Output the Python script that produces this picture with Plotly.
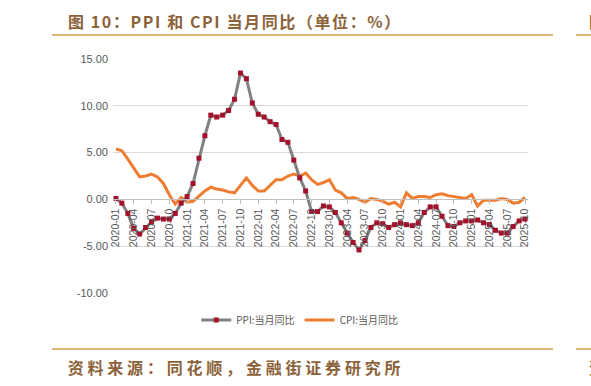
import plotly.graph_objects as go

# ---------------- data ----------------
months = [f"{y}-{m:02d}" for y in range(2020, 2026) for m in range(1, 13)][:70]  # 2020-01 .. 2025-10

ppi = [0.1, -0.4, -1.5, -3.1, -3.7, -3.0, -2.4, -2.0, -2.1, -2.1, -1.5, -0.4,
       0.3, 1.7, 4.4, 6.8, 9.0, 8.8, 9.0, 9.5, 10.7, 13.5, 12.9, 10.3,
       9.1, 8.8, 8.3, 8.0, 6.4, 6.1, 4.2, 2.3, 0.9, -1.3, -1.3, -0.7,
       -0.8, -1.4, -2.5, -3.6, -4.6, -5.4, -4.4, -3.0, -2.5, -2.6, -3.0, -2.7,
       -2.5, -2.7, -2.8, -2.5, -1.4, -0.8, -0.8, -1.8, -2.8, -2.9, -2.5, -2.3,
       -2.3, -2.2, -2.5, -2.7, -3.3, -3.6, -3.6, -2.9, -2.3, -2.1]

cpi = [5.4, 5.2, 4.3, 3.3, 2.4, 2.5, 2.7, 2.4, 1.7, 0.5, -0.5, 0.2,
       -0.3, -0.2, 0.4, 0.9, 1.3, 1.1, 1.0, 0.8, 0.7, 1.5, 2.3, 1.5,
       0.9, 0.9, 1.5, 2.1, 2.1, 2.5, 2.7, 2.5, 2.8, 2.1, 1.6, 1.8,
       2.1, 1.0, 0.7, 0.1, 0.2, 0.0, -0.3, 0.1, 0.0, -0.2, -0.5, -0.3,
       -0.8, 0.7, 0.1, 0.3, 0.3, 0.2, 0.5, 0.6, 0.4, 0.3, 0.2, 0.1,
       0.5, -0.7, -0.1, -0.1, -0.1, 0.1, 0.0, -0.4, -0.3, 0.2]

x_ticks = months[::3]
y_ticks = [-10, -5, 0, 5, 10, 15]
y_tick_labels = ["-10.00", "-5.00", "0.00", "5.00", "10.00", "15.00"]

title_text = "图 10：PPI 和 CPI 当月同比（单位：%）"
source_text = "资料来源：同花顺，金融街证券研究所"
series_names = ["PPI:当月同比", "CPI:当月同比"]

# ---------------- layout helpers ----------------
W, H = 591, 386
L, R, T, B = 113, 63, 59, 93
PW, PH = W - L - R, H - T - B


def fx(p):
    return (p - L) / PW


def fy(p):
    return (H - B - p) / PH


brown = "#8C6239"
gold = "#D4A048"
gray_txt = "#595959"

title_ls = 1.6
source_ls = 3.8
title_shift = len(title_text) * title_ls / 2
source_shift = len(source_text) * source_ls / 2

fig = go.Figure()
fig.add_trace(go.Scatter(x=months, y=cpi, name=series_names[1], mode="lines",
                         line=dict(color="#ED7D31", width=3)))
fig.add_trace(go.Scatter(x=months, y=ppi, name=series_names[0], mode="lines+markers",
                         line=dict(color="#808080", width=3),
                         marker=dict(color="#A5102A", size=5, symbol="square")))

shapes = []
for yy in (35, 349):
    shapes.append(dict(type="line", xref="paper", yref="paper", x0=fx(52), x1=fx(553),
                       y0=fy(yy), y1=fy(yy), line=dict(color=gold, width=1.5)))
    shapes.append(dict(type="line", xref="paper", yref="paper", x0=fx(576), x1=fx(600),
                       y0=fy(yy), y1=fy(yy), line=dict(color=gold, width=1.5)))

cjk = dict(family="Noto Sans CJK SC", size=16, color=brown, weight="bold")
annotations = [
    dict(text=title_text, x=fx(66 + title_shift), y=fy(21), xref="paper", yref="paper",
         xanchor="left", yanchor="middle", showarrow=False, font=cjk),
    dict(text=source_text, x=fx(66 + source_shift), y=fy(367), xref="paper", yref="paper",
         xanchor="left", yanchor="middle", showarrow=False, font=cjk),
    dict(text="图", x=fx(587), y=fy(21), xref="paper", yref="paper",
         xanchor="left", yanchor="middle", showarrow=False, font=cjk),
    dict(text="资", x=fx(587), y=fy(367), xref="paper", yref="paper",
         xanchor="left", yanchor="middle", showarrow=False, font=cjk),
]

fig.update_layout(
    width=W, height=H,
    margin=dict(l=L, r=R, t=T, b=B),
    paper_bgcolor="white", plot_bgcolor="white",
    showlegend=True,
    legend=dict(orientation="h", x=0.45, xanchor="center", y=fy(320), yanchor="middle",
                traceorder="reversed", font=dict(family="Noto Sans CJK SC", size=10, color=gray_txt),
                itemwidth=30, bgcolor="rgba(0,0,0,0)"),
    shapes=shapes,
    annotations=annotations,
    xaxis=dict(type="category", range=[-0.5, len(months) - 0.5],
               anchor="free", position=10 / 25,
               tickmode="array", tickvals=x_ticks, ticktext=x_ticks,
               tickangle=-90, showgrid=False,
               showline=True, linecolor="#BFBFBF", linewidth=1,
               ticks="outside", ticklen=4, tickcolor="#BFBFBF",
               tickfont=dict(family="Liberation Sans", size=10.5, color=gray_txt)),
    yaxis=dict(range=[-10, 15], tickmode="array", tickvals=y_ticks, ticktext=y_tick_labels,
               showgrid=True, gridcolor="#D9D9D9", gridwidth=1, zeroline=False,
               showline=False, ticks="", ticklabelstandoff=4,
               tickfont=dict(family="Liberation Sans", size=11, color=gray_txt)),
)

post = """
var ann = document.querySelectorAll('.annotation-text');
if (ann.length > 1) {
  ann[0].style.letterSpacing = '%spx';
  ann[1].style.letterSpacing = '%spx';
}
""" % (title_ls, source_ls)

fig.write_html("out.html", post_script=post)
